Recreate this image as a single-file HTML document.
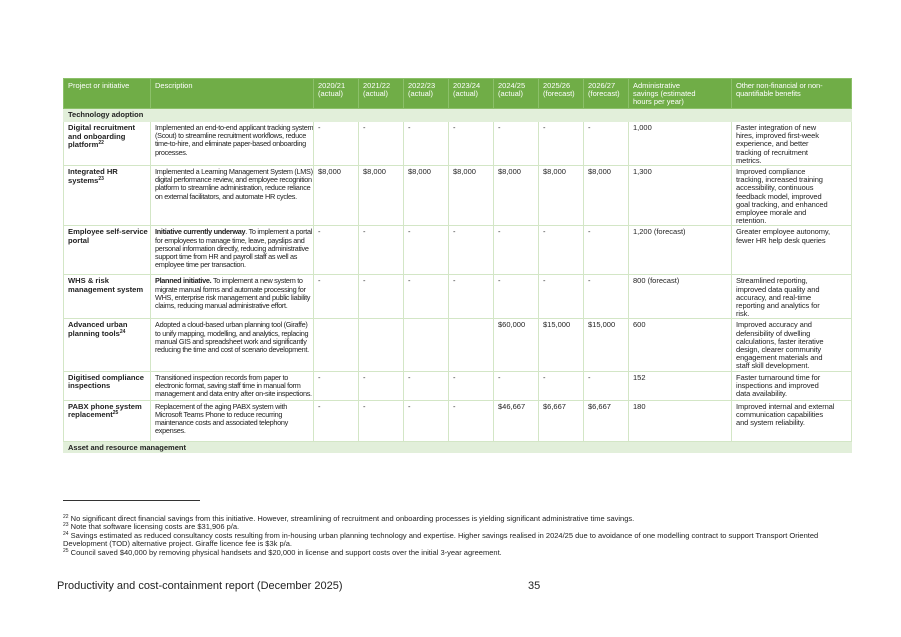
<!DOCTYPE html>
<html><head><meta charset="utf-8"><style>
body{margin:0;width:901px;height:637px;background:#fff;font-family:"Liberation Sans",Arial,sans-serif;color:#222;position:relative;overflow:hidden}
table{position:absolute;left:63px;top:78px;border-collapse:collapse;table-layout:fixed;width:788px;font-size:7.5px;line-height:8.2px}
td{border:1px solid #d3e6c6;vertical-align:top;padding:2px 0 0 4px;overflow:hidden;white-space:nowrap}
td.d{letter-spacing:-0.3px;font-size:7.3px;padding-left:4px}
tr.h td{background:#70ad47;color:#fff;border-color:#8cc06a;padding-top:3px}
tr.s td{background:#e2efda;font-weight:bold;padding-top:2px;border-color:#e2efda}
td.n{font-weight:bold;font-size:7.6px;line-height:8.6px}
td.b{letter-spacing:-0.1px}
sup{font-size:5px;vertical-align:3px;line-height:0}
.fn{position:absolute;left:63px;font-size:7.5px;line-height:8.4px;color:#222}
</style></head><body>
<table>
<colgroup><col style="width:87px"><col style="width:163px"><col style="width:45px"><col style="width:45px"><col style="width:45px"><col style="width:45px"><col style="width:45px"><col style="width:45px"><col style="width:45px"><col style="width:103px"><col style="width:120px"></colgroup>
<tr class="h" style="height:30px"><td>Project or initiative</td><td>Description</td><td>2020/21<br>(actual)</td><td>2021/22<br>(actual)</td><td>2022/23<br>(actual)</td><td>2023/24<br>(actual)</td><td>2024/25<br>(actual)</td><td>2025/26<br>(forecast)</td><td>2026/27<br>(forecast)</td><td>Administrative<br>savings (estimated<br>hours per year)</td><td class="b">Other non-financial or non-<br>quantifiable benefits</td></tr>
<tr class="s" style="height:13px"><td colspan="11">Technology adoption</td></tr>
<tr style="height:44px"><td class="n">Digital recruitment<br>and onboarding<br>platform<sup>22</sup></td><td class="d">Implemented an end-to-end applicant tracking system<br>(Scout) to streamline recruitment workflows, reduce<br>time-to-hire, and eliminate paper-based onboarding<br>processes.</td><td>-</td><td>-</td><td>-</td><td>-</td><td>-</td><td>-</td><td>-</td><td>1,000</td><td class="b">Faster integration of new<br>hires, improved first-week<br>experience, and better<br>tracking of recruitment<br>metrics.</td></tr>
<tr style="height:60px"><td class="n">Integrated HR<br>systems<sup>23</sup></td><td class="d">Implemented a Learning Management System (LMS),<br>digital performance review, and employee recognition<br>platform to streamline administration, reduce reliance<br>on external facilitators, and automate HR cycles.</td><td>$8,000</td><td>$8,000</td><td>$8,000</td><td>$8,000</td><td>$8,000</td><td>$8,000</td><td>$8,000</td><td>1,300</td><td class="b">Improved compliance<br>tracking, increased training<br>accessibility, continuous<br>feedback model, improved<br>goal tracking, and enhanced<br>employee morale and<br>retention.</td></tr>
<tr style="height:49px"><td class="n">Employee self-service<br>portal</td><td class="d"><b>Initiative currently underway</b>. To implement a portal<br>for employees to manage time, leave, payslips and<br>personal information directly, reducing administrative<br>support time from HR and payroll staff as well as<br>employee time per transaction.</td><td>-</td><td>-</td><td>-</td><td>-</td><td>-</td><td>-</td><td>-</td><td>1,200 (forecast)</td><td class="b">Greater employee autonomy,<br>fewer HR help desk queries</td></tr>
<tr style="height:43px"><td class="n">WHS &amp; risk<br>management system</td><td class="d"><b>Planned initiative.</b> To implement a new system to<br>migrate manual forms and automate processing for<br>WHS, enterprise risk management and public liability<br>claims, reducing manual administrative effort.</td><td>-</td><td>-</td><td>-</td><td>-</td><td>-</td><td>-</td><td>-</td><td>800 (forecast)</td><td class="b">Streamlined reporting,<br>improved data quality and<br>accuracy, and real-time<br>reporting and analytics for<br>risk.</td></tr>
<tr style="height:52px"><td class="n">Advanced urban<br>planning tools<sup>24</sup></td><td class="d">Adopted a cloud-based urban planning tool (Giraffe)<br>to unify mapping, modelling, and analytics, replacing<br>manual GIS and spreadsheet work and significantly<br>reducing the time and cost of scenario development.</td><td></td><td></td><td></td><td></td><td>$60,000</td><td>$15,000</td><td>$15,000</td><td>600</td><td class="b">Improved accuracy and<br>defensibility of dwelling<br>calculations, faster iterative<br>design, clearer community<br>engagement materials and<br>staff skill development.</td></tr>
<tr style="height:29px"><td class="n">Digitised compliance<br>inspections</td><td class="d">Transitioned inspection records from paper to<br>electronic format, saving staff time in manual form<br>management and data entry after on-site inspections.</td><td>-</td><td>-</td><td>-</td><td>-</td><td>-</td><td>-</td><td>-</td><td>152</td><td class="b">Faster turnaround time for<br>inspections and improved<br>data availability.</td></tr>
<tr style="height:41px"><td class="n">PABX phone system<br>replacement<sup>25</sup></td><td class="d">Replacement of the aging PABX system with<br>Microsoft Teams Phone to reduce recurring<br>maintenance costs and associated telephony<br>expenses.</td><td>-</td><td>-</td><td>-</td><td>-</td><td>$46,667</td><td>$6,667</td><td>$6,667</td><td>180</td><td class="b">Improved internal and external<br>communication capabilities<br>and system reliability.</td></tr>
<tr class="s" style="height:11px"><td colspan="11">Asset and resource management</td></tr>
</table>
<div style="position:absolute;left:63px;top:500px;width:137px;border-top:1px solid #333"></div>
<div class="fn" style="top:515px"><sup>22</sup> No significant direct financial savings from this initiative. However, streamlining of recruitment and onboarding processes is yielding significant administrative time savings.<br><sup>23</sup> Note that software licensing costs are $31,906 p/a.<br><sup>24</sup> Savings estimated as reduced consultancy costs resulting from in-housing urban planning technology and expertise. Higher savings realised in 2024/25 due to avoidance of one modelling contract to support Transport Oriented<br>Development (TOD) alternative project. Giraffe licence fee is $3k p/a.<br><sup>25</sup> Council saved $40,000 by removing physical handsets and $20,000 in license and support costs over the initial 3-year agreement.</div>
<div style="position:absolute;left:57px;top:580px;font-size:11px;color:#222">Productivity and cost-containment report (December 2025)</div>
<div style="position:absolute;left:528px;top:580px;font-size:11px;color:#222">35</div>
</body></html>
